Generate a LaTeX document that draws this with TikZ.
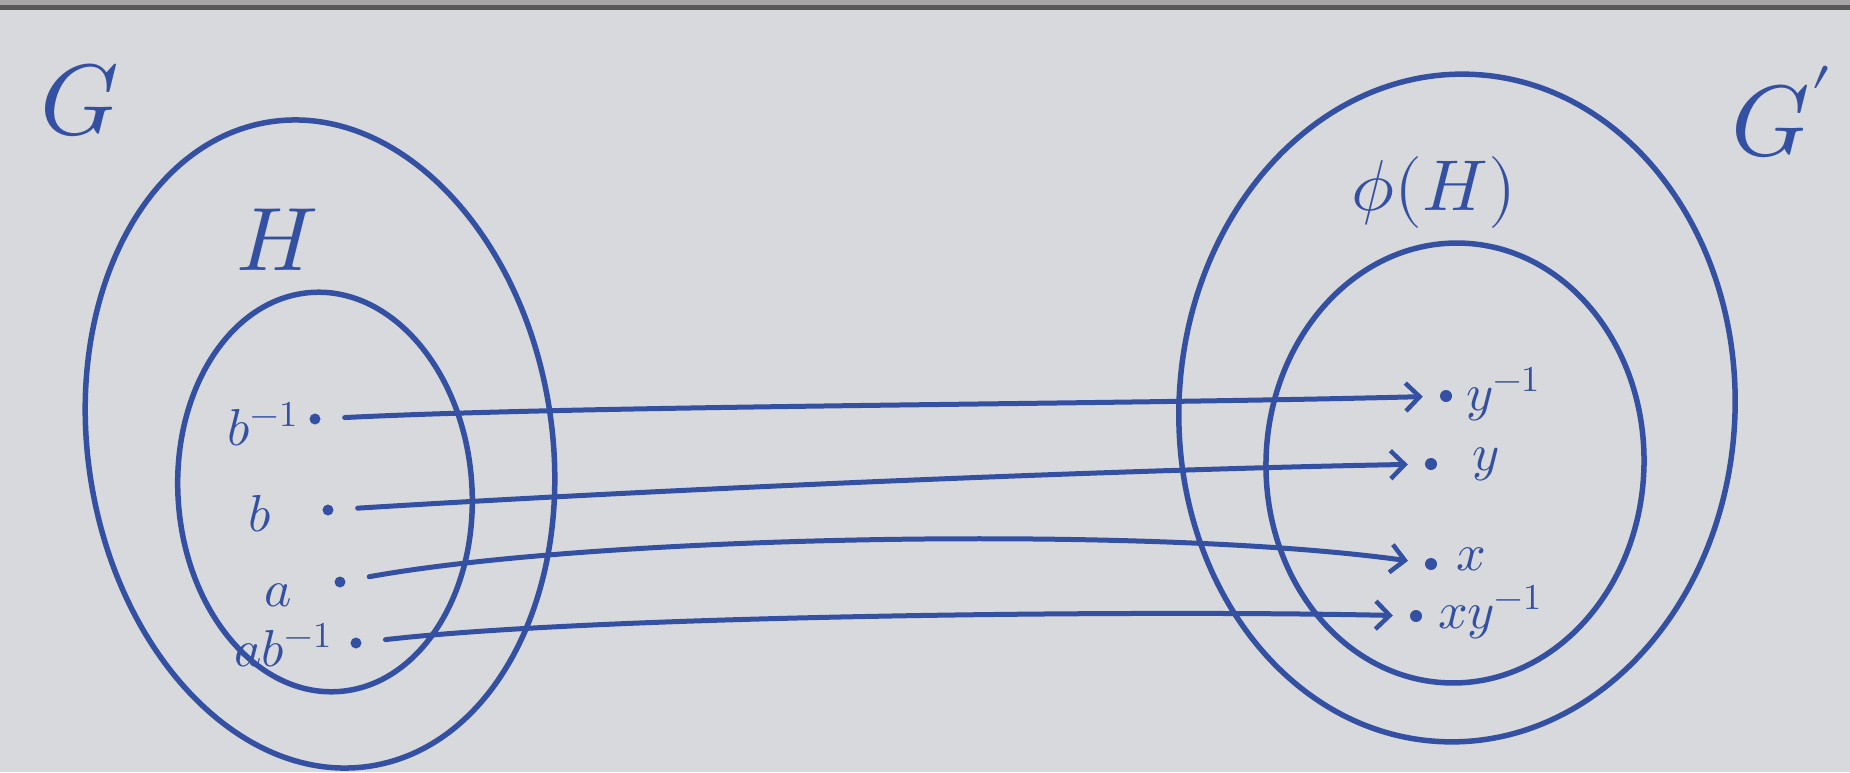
\documentclass[tikz,border=0pt]{standalone}
\usepackage{unicode-math}
\usetikzlibrary{arrows.meta}
\definecolor{ink}{RGB}{52,80,162}
\definecolor{board}{RGB}{216,217,220}
\begin{document}
\begin{tikzpicture}[x=1pt,y=-1pt,
  setline/.style={draw=ink, line width=5.5pt},
  dot/.style={circle, fill=ink, inner sep=0pt, minimum size=11pt},
  lbl/.style={text=ink, inner sep=0pt, font=\fontsize{52}{52}\selectfont},
  big/.style={text=ink, inner sep=0pt, font=\fontsize{100}{100}\selectfont},
  mapto/.style={draw=ink, line width=5pt, line cap=round,
    -{Straight Barb[length=14pt,width=28pt,line width=4.5pt]},
    shorten <=24pt, shorten >=17pt}]
\fill[board] (0,0) rectangle (1850,772);
\useasboundingbox (0,0) rectangle (1850,772);
\fill[black!35] (0,0) rectangle (1850,5);
\fill[black!65] (0,5) rectangle (1850,10);

% sets
\coordinate (cG) at (320,444);
\coordinate (cH) at (325,492);
\coordinate (cGp) at (1457,408);
\coordinate (cPH) at (1455,463);
\draw[setline, rotate around={9:(cG)}] (cG) ellipse [x radius=232, y radius=326];
\draw[setline, rotate around={4:(cH)}] (cH) ellipse [x radius=147, y radius=200];
\draw[setline, rotate around={-3:(cGp)}] (cGp) ellipse [x radius=278, y radius=334];
\draw[setline, rotate around={-2:(cPH)}] (cPH) ellipse [x radius=189, y radius=220];

% set labels
\node[big] (G) at (80,100) {$G$};
\node[big] (Gp) at (1782,112) {$G'$};
\node[big, font=\fontsize{90}{90}\selectfont] (H) at (277,240) {$H$};
\node[big, font=\fontsize{72}{72}\selectfont] (phiH) at (1434,192) {$\phi(H)$};

% left elements
\node[dot] (l1) at (315,419) {};
\node[dot] (l2) at (328,510) {};
\node[dot] (l3) at (340,582) {};
\node[dot] (l4) at (356,643) {};
\node[lbl, anchor=base east] (lb1) at (298,445) {$b^{-1}$};
\node[lbl, anchor=base east] (lb2) at (272,531) {$b$};
\node[lbl, anchor=base east] (lb3) at (292,606) {$a$};
\node[lbl, anchor=base east] (lb4) at (332,666) {$ab^{-1}$};

% right elements
\node[dot, minimum size=12pt] (r1) at (1446,396) {};
\node[dot, minimum size=12pt] (r2) at (1431,464) {};
\node[dot, minimum size=12pt] (r3) at (1431,564) {};
\node[dot, minimum size=12pt] (r4) at (1416,616) {};
\node[lbl, anchor=base west] (rb1) at (1466,410) {$y^{-1}$};
\node[lbl, anchor=base west] (rb2) at (1472,470) {$y$};
\node[lbl, anchor=base west] (rb3) at (1456,570) {$x$};
\node[lbl, anchor=base west] (rb4) at (1438,628) {$xy^{-1}$};

% mapping arrows
\draw[mapto] (l1) .. controls (600,405) and (1100,405) .. (r1);
\draw[mapto] (l2) .. controls (650,490) and (1100,470) .. (r2);
\draw[mapto] (l3) .. controls (600,535) and (1150,525) .. (r3);
\draw[mapto] (l4) .. controls (600,615) and (1150,610) .. (r4);
\end{tikzpicture}
\end{document}
